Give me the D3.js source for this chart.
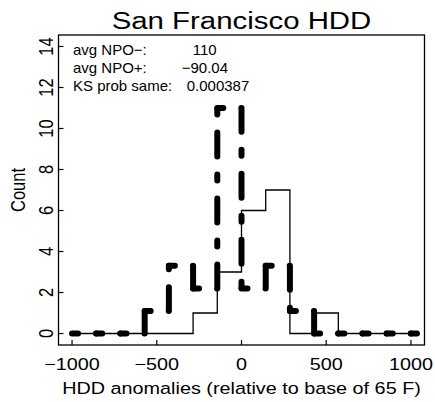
<!DOCTYPE html>
<html>
<head>
<meta charset="utf-8">
<script src="https://cdn.jsdelivr.net/npm/d3@7"></script>
<style>
  body { margin: 0; background: #fff; }
  text { font-family: "Liberation Sans", Arial, sans-serif; fill: #000; }
</style>
</head>
<body>
<div id="container"></div>
<script>
// bin edges (HDD anomalies), 1000/7 wide
var binEdges = [-1000, -857.1, -714.3, -571.4, -428.6, -285.7, -142.9, 0,
  142.9, 285.7, 428.6, 571.4, 714.3, 857.1, 1000, 1142.9];
// NPO- : thin solid line
var countsMinus = [0, 0, 0, 0, 0, 1, 3, 6, 7, 0, 1, 0, 0, 0];
// NPO+ : thick dot-dash line (last bin is the empty one past 1000)
var countsPlus = [0, 0, 0, 1.1, 3.3, 2.2, 11, 2.2, 3.3, 1.1, 0, 0, 0, 0, 0];
var xTicks = [-1000, -500, 0, 500, 1000];
var yTicks = [0, 2, 4, 6, 8, 10, 12, 14];
var notes = [
  { label: "avg NPO\u2212:", value: "110" },
  { label: "avg NPO+:", value: "\u221290.04" },
  { label: "KS prob same:", value: "0.000387" },
];

var W = 435, H = 402;
var box = { left: 58.5, right: 424.5, top: 35, bottom: 345 };
var sx = 1.2; // the picture is a bit wider than tall

var svg = d3.select("#container").append("svg")
  .attr("width", W).attr("height", H);

var x = d3.scaleLinear().domain([-1080, 1080]).range([box.left, box.right]);
var y = d3.scaleLinear().domain([-0.56, 14.56]).range([box.bottom, box.top]);

function txt(px, py, str, size, anchor, rot, stretch) {
  var s = stretch || sx;
  return svg.append("text")
    .attr("transform", "translate(" + px + "," + py + ") scale(" + s + ",1)" + (rot ? " rotate(" + rot + ")" : ""))
    .attr("text-anchor", anchor || "start")
    .style("font-size", size + "px")
    .text(str);
}

svg.append("clipPath").attr("id", "clip")
  .append("rect")
  .attr("x", box.left).attr("y", box.top)
  .attr("width", box.right - box.left).attr("height", box.bottom - box.top);

var plot = svg.append("g").attr("clip-path", "url(#clip)");

// thin step line
var p = "M" + x(binEdges[0]) + "," + y(countsMinus[0]);
countsMinus.forEach(function (c, i) {
  p += "V" + y(c) + "H" + x(binEdges[i + 1]);
});
plot.append("path")
  .attr("d", p)
  .attr("fill", "none")
  .attr("stroke", "#000")
  .attr("stroke-width", 1.3);

// thick dash line, one piece per bin so the dash pattern restarts
plot.selectAll("path.plus")
  .data(countsPlus)
  .enter()
  .append("path")
  .attr("class", "plus")
  .attr("d", function (c, i) {
    var next = i + 1 < countsPlus.length ? countsPlus[i + 1] : c;
    return "M" + x(binEdges[i]) + "," + y(c) + "H" + x(binEdges[i + 1]) + "V" + y(next);
  })
  .attr("fill", "none")
  .attr("stroke", "#000")
  .attr("stroke-width", 6)
  .attr("stroke-linecap", "round")
  .attr("stroke-linejoin", "round")
  .attr("stroke-dasharray", "6,18,24,18");

// box
svg.append("rect")
  .attr("x", box.left).attr("y", box.top)
  .attr("width", box.right - box.left).attr("height", box.bottom - box.top)
  .attr("fill", "none").attr("stroke", "#000").attr("stroke-width", 1.3);

// ticks pointing inward
svg.selectAll("line.xt").data(xTicks).enter().append("line")
  .attr("x1", x).attr("x2", x)
  .attr("y1", box.bottom).attr("y2", box.bottom - 5)
  .attr("stroke", "#000").attr("stroke-width", 1.2);
svg.selectAll("line.yt").data(yTicks).enter().append("line")
  .attr("y1", y).attr("y2", y)
  .attr("x1", box.left).attr("x2", box.left + 5)
  .attr("stroke", "#000").attr("stroke-width", 1.2);

var fmt = d3.format("d");
xTicks.forEach(function (t) { txt(x(t), 370, fmt(t), 16.5, "middle"); });
yTicks.forEach(function (t) { txt(53, y(t), fmt(t), 16.5, "middle", -90); });

txt((box.left + box.right) / 2, 29, "San Francisco HDD", 24.5, "middle");
txt((box.left + box.right) / 2, 394, "HDD anomalies (relative to base of 65 F)", 16.5, "middle");
txt(25, (box.top + box.bottom) / 2, "Count", 16.5, "middle", -90);

var valueX = [192.7, 181.7, 186.7];
notes.forEach(function (d, i) {
  txt(73, 54.5 + i * 18, d.label, 15, "start", 0, 1.0);
  txt(valueX[i], 54.5 + i * 18, d.value, 15, "start", 0, 1.0);
});
</script>
</body>
</html>
